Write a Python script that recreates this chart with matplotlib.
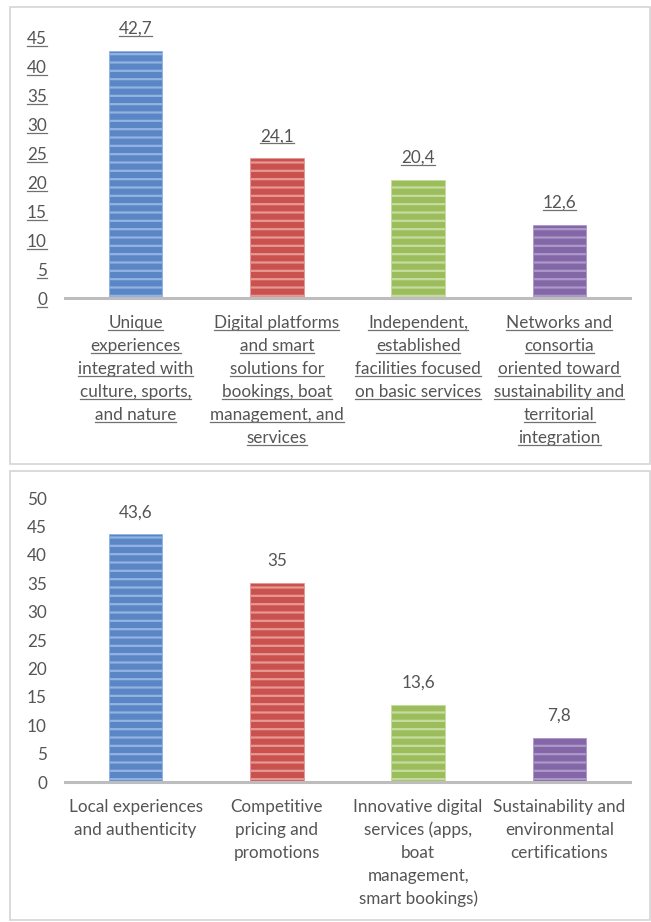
import matplotlib
matplotlib.use("Agg")
import matplotlib.pyplot as plt
from matplotlib.patches import Rectangle
from matplotlib.lines import Line2D

plt.rcParams['font.family'] = ['Lato', 'DejaVu Sans']
plt.rcParams['hatch.linewidth'] = 1.6

# ---- data ----
top_labels = [
    "Unique\nexperiences\nintegrated with\nculture, sports,\nand nature",
    "Digital platforms\nand smart\nsolutions for\nbookings, boat\nmanagement, and\nservices",
    "Independent,\nestablished\nfacilities focused\non basic services",
    "Networks and\nconsortia\noriented toward\nsustainability and\nterritorial\nintegration",
]
top_values = [42.7, 24.1, 20.4, 12.6]
top_yticks = list(range(0, 50, 5))

bottom_labels = [
    "Local experiences\nand authenticity",
    "Competitive\npricing and\npromotions",
    "Innovative digital\nservices (apps,\nboat\nmanagement,\nsmart bookings)",
    "Sustainability and\nenvironmental\ncertifications",
]
bottom_values = [43.6, 35, 13.6, 7.8]
bottom_yticks = list(range(0, 55, 5))

bar_colors = ['#5a86c6', '#c9524f', '#9cbd5c', '#8467a6']
stripe_colors = ['#93b3e2', '#e79795', '#c6dc9e', '#ad98cc']

TEXT = '#555555'
FS = 12.3
LINE_STEP = 23 / 100 * 72   # points between label lines

fig = plt.figure(figsize=(6.51, 9.22), dpi=100)

# panel frames
for (x0, y0, x1, y1) in [(10, 7, 650, 464), (10, 471, 650, 920)]:
    fig.patches.append(Rectangle((x0 / 651, 1 - y1 / 922), (x1 - x0) / 651, (y1 - y0) / 922,
                                 transform=fig.transFigure, fill=False,
                                 edgecolor='#d4d4d4', linewidth=1.2))

ax_top = fig.add_axes([65 / 651, 1 - 298 / 922, 565 / 651, (298 - 37.5) / 922])
ax_bot = fig.add_axes([65 / 651, 1 - 782 / 922, 565 / 651, (782 - 498) / 922])

underlined = []


def draw_chart(ax, labels, values, yticks, underline):
    x = list(range(len(values)))
    ax.bar(x, values, width=0.38, color=bar_colors, edgecolor=stripe_colors,
           linewidth=0.6, hatch='--', zorder=2)
    ax.set_xlim(-0.5, len(values) - 0.5)
    ax.set_ylim(0, yticks[-1])
    ax.set_yticks(yticks)
    ax.set_yticklabels([str(t) for t in yticks], fontsize=FS, color=TEXT)
    ax.tick_params(axis='y', length=0, pad=13)
    ax.set_xticks([])
    for s in ['top', 'right', 'left']:
        ax.spines[s].set_visible(False)
    ax.spines['bottom'].set_color('#bdbdbd')
    ax.spines['bottom'].set_linewidth(2.2)
    ax.patch.set_visible(False)

    # value labels
    for xi, v in zip(x, values):
        txt = ('%g' % v).replace('.', ',')
        t = ax.annotate(txt, xy=(xi, v), xytext=(0, 16), textcoords='offset points',
                        ha='center', va='center', fontsize=FS, color=TEXT)
        if underline:
            underlined.append(t)

    # category labels, one text per line
    for xi, lab in zip(x, labels):
        for k, line in enumerate(lab.split('\n')):
            t = ax.annotate(line, xy=(xi, 0), xytext=(0, -18 - k * LINE_STEP),
                            textcoords='offset points', ha='center', va='center',
                            fontsize=FS, color=TEXT, annotation_clip=False)
            if underline:
                underlined.append(t)

    if underline:
        underlined.extend(ax.get_yticklabels())


draw_chart(ax_top, top_labels, top_values, top_yticks, True)
draw_chart(ax_bot, bottom_labels, bottom_values, bottom_yticks, False)

# underline the texts of the upper chart
fig.canvas.draw()
renderer = fig.canvas.get_renderer()
W, H = fig.bbox.width, fig.bbox.height
for t in underlined:
    bb = t.get_window_extent(renderer)
    y = (bb.y0 + 1) / H
    fig.add_artist(Line2D([bb.x0 / W, bb.x1 / W], [y, y], transform=fig.transFigure,
                          color='#707070', linewidth=0.9))

fig.savefig('out.png', dpi=100)
